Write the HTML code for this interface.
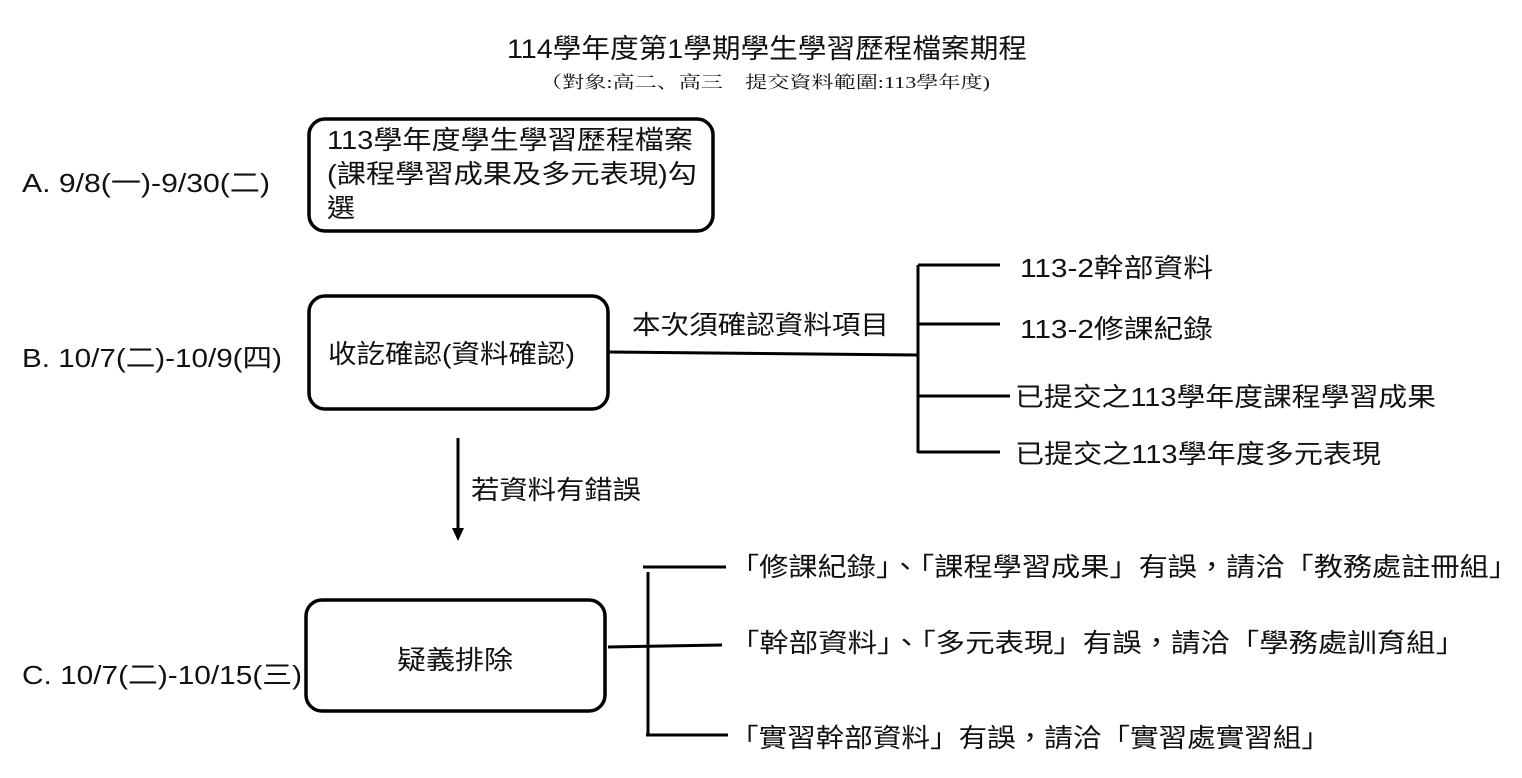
<!DOCTYPE html>
<html><head><meta charset="utf-8"><style>
html,body{margin:0;padding:0;background:#fff;}
svg{display:block;}
text{font-family:"Liberation Sans","Noto Sans CJK TC",sans-serif;fill:#111;}
</style></head><body>
<svg width="1522" height="778" viewBox="0 0 1522 778" xmlns="http://www.w3.org/2000/svg">
<text x="507" y="58" font-size="27" textLength="520" lengthAdjust="spacingAndGlyphs">114學年度第1學期學生學習歷程檔案期程</text>
<text x="540" y="88" font-size="17" textLength="450" lengthAdjust="spacingAndGlyphs" style="font-family:'Liberation Serif','Noto Serif CJK SC',serif">（對象:高二、高三　提交資料範圍:113學年度)</text>

<rect x="309" y="119" width="404" height="112" rx="16" fill="none" stroke="#000" stroke-width="3.5"/>
<text x="327" y="149" font-size="26" textLength="366" lengthAdjust="spacingAndGlyphs">113學年度學生學習歷程檔案</text>
<text x="327" y="183" font-size="26" textLength="370" lengthAdjust="spacingAndGlyphs">(課程學習成果及多元表現)勾</text>
<text x="327" y="217" font-size="26" textLength="28" lengthAdjust="spacingAndGlyphs">選</text>
<text x="22" y="192" font-size="26" textLength="248" lengthAdjust="spacingAndGlyphs">A. 9/8(一)-9/30(二)</text>

<rect x="309" y="296" width="299" height="113" rx="16" fill="none" stroke="#000" stroke-width="3.5"/>
<text x="328" y="363" font-size="26" textLength="247" lengthAdjust="spacingAndGlyphs">收訖確認(資料確認)</text>
<text x="22" y="367" font-size="26" textLength="260" lengthAdjust="spacingAndGlyphs">B. 10/7(二)-10/9(四)</text>

<g stroke="#000" stroke-width="3" fill="none">
<line x1="608" y1="352" x2="918" y2="355"/>
<line x1="918" y1="265" x2="918" y2="453"/>
<line x1="918" y1="265" x2="1000" y2="265"/>
<line x1="918" y1="324" x2="1000" y2="324"/>
<line x1="918" y1="396" x2="1010" y2="396"/>
<line x1="918" y1="452" x2="1000" y2="452"/>
<line x1="458" y1="438" x2="458" y2="530"/>
<line x1="608" y1="647" x2="722" y2="645"/>
<line x1="648" y1="572" x2="648" y2="736"/>
<line x1="643" y1="567" x2="726" y2="567"/>
<line x1="646" y1="735" x2="728" y2="735"/>
</g>
<polygon points="452,528 464,528 458,541" fill="#000"/>
<text x="632" y="334" font-size="26" textLength="257" lengthAdjust="spacingAndGlyphs">本次須確認資料項目</text>
<text x="1020" y="277" font-size="26" textLength="193" lengthAdjust="spacingAndGlyphs">113-2幹部資料</text>
<text x="1020" y="338" font-size="26" textLength="193" lengthAdjust="spacingAndGlyphs">113-2修課紀錄</text>
<text x="1015" y="406" font-size="26" textLength="421" lengthAdjust="spacingAndGlyphs">已提交之113學年度課程學習成果</text>
<text x="1015" y="463" font-size="26" textLength="366" lengthAdjust="spacingAndGlyphs">已提交之113學年度多元表現</text>
<text x="471" y="499" font-size="26" textLength="170" lengthAdjust="spacingAndGlyphs">若資料有錯誤</text>

<rect x="306" y="600" width="299" height="111" rx="16" fill="none" stroke="#000" stroke-width="3.5"/>
<text x="397" y="669" font-size="26" textLength="116" lengthAdjust="spacingAndGlyphs">疑義排除</text>
<text x="22" y="684" font-size="26" textLength="280" lengthAdjust="spacingAndGlyphs">C. 10/7(二)-10/15(三)</text>

<text x="730" y="576" font-size="26" textLength="788" lengthAdjust="spacingAndGlyphs">「修課紀錄」、「課程學習成果」有誤，請洽「教務處註冊組」</text>
<text x="730" y="652" font-size="26" textLength="735" lengthAdjust="spacingAndGlyphs">「幹部資料」、「多元表現」有誤，請洽「學務處訓育組」</text>
<text x="730" y="747" font-size="26" textLength="600" lengthAdjust="spacingAndGlyphs">「實習幹部資料」有誤，請洽「實習處實習組」</text>
</svg>
</body></html>
